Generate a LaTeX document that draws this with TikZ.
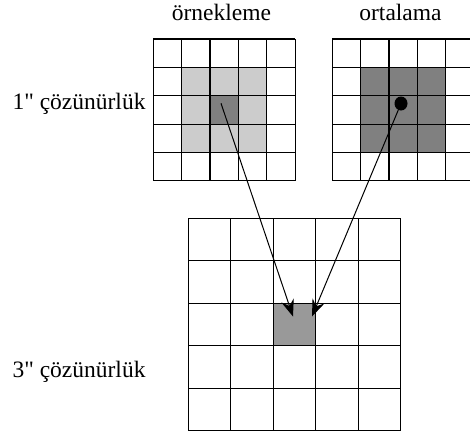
\documentclass[tikz,border=0pt]{standalone}
\usepackage{fontspec}
\setmainfont{Liberation Serif}[Ligatures=TeXOff]
\usetikzlibrary{arrows.meta,shapes.geometric}
\definecolor{lightfill}{HTML}{CCCCCC}
\definecolor{darkfill}{HTML}{808080}
\definecolor{midfill}{HTML}{999999}
\begin{document}
\begin{tikzpicture}[x=1pt,y=-1pt,
  gridline/.style={line width=1.1pt},
  lbl/.style={inner sep=0pt, font=\fontsize{23.5}{28}\selectfont},
  arr/.style={line width=1pt, -{Stealth[length=17pt,width=13pt,inset=6pt]}}]
\useasboundingbox (0,0) rectangle (470,432);
\clip (0,0) rectangle (470,432);
% fills
\fill[lightfill] (181.65,67.35) rectangle (266.7,152.4);
\fill[darkfill] (210,95.7) rectangle (238.35,124.05);
\fill[darkfill] (360.65,67.35) rectangle (445.7,152.4);
\fill[midfill] (273.2,303.2) rectangle (315.65,345.65);
% grids
\foreach \i in {0,...,5}{
  \draw[gridline] (153.3+\i*28.35,39) -- (153.3+\i*28.35,180.75);
  \draw[gridline] (153.3,39+\i*28.35) -- (295.05,39+\i*28.35);
  \draw[gridline] (332.3+\i*28.35,39) -- (332.3+\i*28.35,180.75);
  \draw[gridline] (332.3,39+\i*28.35) -- (474.05,39+\i*28.35);
  \draw[gridline] (188.3+\i*42.45,218.3) -- (188.3+\i*42.45,430.55);
  \draw[gridline] (188.3,218.3+\i*42.45) -- (400.55,218.3+\i*42.45);
}
% labels
\node[lbl, anchor=base] (t1) at (221.5,20.5) {örnekleme};
\node[lbl, anchor=base] (t2) at (400.5,20.5) {ortalama};
\node[lbl, anchor=base east] (r1) at (145.7,109.3) {1" çözünürlük};
\node[lbl, anchor=base east] (r2) at (145.7,377.7) {3" çözünürlük};
% dot and arrows
\node[fill=black, ellipse, minimum width=13pt, minimum height=14pt, inner sep=0pt] (dot) at (401,103.5) {};
\coordinate (src) at (221,103.3);
\coordinate (tipA) at (293,316.5);
\coordinate (tipB) at (312,316.5);
\draw[arr] (src) -- (tipA);
\draw[arr] (dot) -- (tipB);
\end{tikzpicture}
\end{document}
